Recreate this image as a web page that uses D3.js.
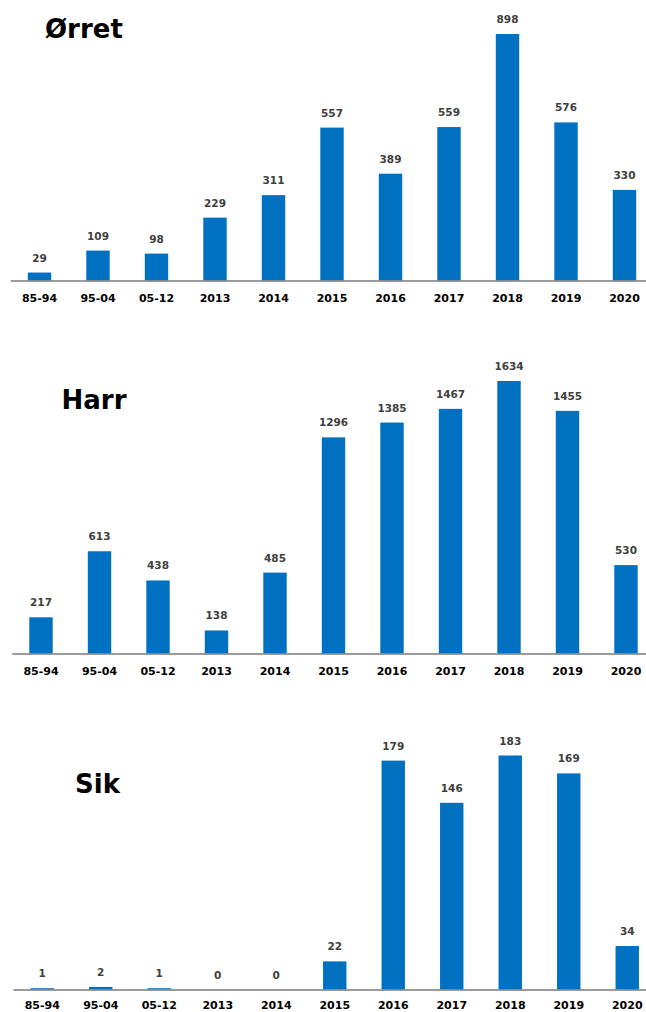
<!DOCTYPE html>
<html>
<head>
<meta charset="utf-8">
<script src="https://cdn.jsdelivr.net/npm/d3@7"></script>
<style>
  body { margin: 0; background: #fff; }
  svg { display: block; }
</style>
</head>
<body>
<div id="chart"></div>
<script>
// periods on the x axis (same for all three species)
const periods = ["85-94", "95-04", "05-12", "2013", "2014", "2015", "2016", "2017", "2018", "2019", "2020"];

// counts per species
const orret = [29, 109, 98, 229, 311, 557, 389, 559, 898, 576, 330];
const harr = [217, 613, 438, 138, 485, 1296, 1385, 1467, 1634, 1455, 530];
const sik = [1, 2, 1, 0, 0, 22, 179, 146, 183, 169, 34];

const titles = ["Ørret", "Harr", "Sik"];

const width = 646, height = 1012;

// layout of each panel: baseline, top of tallest bar, x range start, label padding, title position
const panels = [
    { name: titles[0], values: orret, base: 280.5, top: 34, x0: 10.25, pad: 13.5, tx: 45, ty: 37.5 },
    { name: titles[1], values: harr, base: 653.5, top: 381, x0: 11.75, pad: 13.5, tx: 61.5, ty: 408.5 },
    { name: titles[2], values: sik, base: 989.5, top: 755.5, x0: 13, pad: 11.5, tx: 75, ty: 793 }
];

const svg = d3.select("#chart")
    .append("svg")
    .attr("width", width)
    .attr("height", height);

panels.forEach(p => {
    const data = periods.map((d, i) => ({ period: d, value: p.values[i] }));

    const g = svg.append("g");

    const x = d3.scaleBand()
        .domain(periods)
        .range([p.x0, p.x0 + 58.5 * periods.length])
        .paddingInner(0.6)
        .paddingOuter(0.3);

    const y = d3.scaleLinear()
        .domain([0, d3.max(data, d => d.value)])
        .range([p.base, p.top]);

    g.selectAll("rect")
        .data(data.filter(d => d.value > 0))
        .join("rect")
        .attr("x", d => x(d.period))
        .attr("width", x.bandwidth())
        .attr("y", d => y(d.value))
        .attr("height", d => y(0) - y(d.value))
        .attr("fill", "#0070c0");

    const axis = g.append("g")
        .attr("transform", `translate(0,${p.base})`)
        .call(d3.axisBottom(x).tickSize(0).tickSizeOuter(0).tickPadding(p.pad));

    axis.select(".domain")
        .attr("stroke", "#7a7a7a")
        .attr("stroke-width", 1.5);

    axis.selectAll("text")
        .attr("font-family", "'DejaVu Sans', Verdana, sans-serif")
        .attr("font-weight", "bold")
        .attr("font-size", 11)
        .attr("fill", "#000");

    g.selectAll(".val")
        .data(data)
        .join("text")
        .attr("class", "val")
        .attr("x", d => x(d.period) + x.bandwidth() / 2)
        .attr("y", d => y(d.value) - 11)
        .attr("text-anchor", "middle")
        .attr("font-family", "'DejaVu Sans', Verdana, sans-serif")
        .attr("font-weight", "bold")
        .attr("font-size", 10.5)
        .attr("fill", "#404040")
        .text(d => d.value);

    g.append("text")
        .attr("x", p.tx)
        .attr("y", p.ty)
        .attr("font-family", "'DejaVu Sans', Verdana, sans-serif")
        .attr("font-weight", "bold")
        .attr("font-size", 26)
        .attr("fill", "#000")
        .text(p.name);
});
</script>
</body>
</html>
